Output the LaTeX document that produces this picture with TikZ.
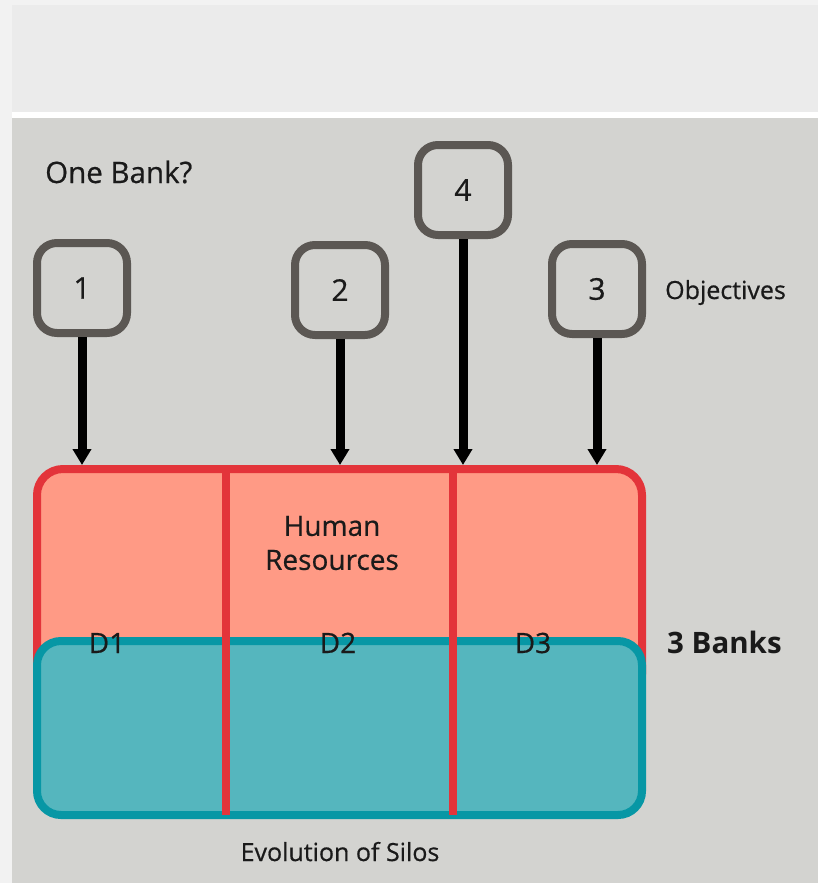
\documentclass[tikz,border=0pt]{standalone}
\usepackage{fontspec}
\setmainfont{Open Sans}[UprightFeatures={FakeBold=0.6}]
\usetikzlibrary{arrows.meta}

\definecolor{pagegray}{HTML}{F2F2F2}
\definecolor{bandgray}{HTML}{EBEBEB}
\definecolor{panelgray}{HTML}{D3D3D0}
\definecolor{boxgray}{HTML}{5B5753}
\definecolor{inkblack}{HTML}{1A1A1A}
\definecolor{siloborder}{HTML}{E3343A}
\definecolor{silofill}{HTML}{FF9A85}
\definecolor{bankborder}{HTML}{0797A5}
\definecolor{bankfill}{HTML}{55B6BE}

\begin{document}
\begin{tikzpicture}[x=1pt,y=1pt]
    \tikzstyle{every node}+=[inner sep=0pt, text=inkblack, font=\fontsize{28}{34}\selectfont]
    \tikzstyle{objbox}=[draw=boxgray, line width=8pt, rounded corners=20pt, minimum width=90pt, minimum height=90pt, font=\fontsize{30}{34}\selectfont]
    \tikzstyle{objarrow}=[line width=9pt, -{Triangle[width=18pt,length=16pt]}]
    \tikzstyle{divider}=[draw=siloborder, line width=8pt]
    \tikzstyle{smalltext}=[font=\fontsize{25}{30}\selectfont]
    \useasboundingbox (0,0) rectangle (818,-883);
    \fill [pagegray] (0,0) rectangle (818,-883);
    \fill [bandgray] (12,-5) rectangle (818,-112);
    \fill [white] (12,-112) rectangle (818,-118);
    \fill [panelgray] (12,-118) rectangle (818,-883);
    \node [objbox] (b1) at (82,-288) {1};
    \node [objbox] (b2) at (340,-290) {2};
    \node [objbox] (b3) at (597,-289) {3};
    \node [objbox] (b4) at (463,-190) {4};
    \node [draw=siloborder, fill=silofill, line width=8pt, rounded corners=26pt, minimum width=605pt, minimum height=231pt] (hr) at (339.5,-584.5) {};
    \node [draw=bankborder, fill=bankfill, line width=8pt, rounded corners=24pt, minimum width=605pt, minimum height=174pt] (banks) at (339.5,-728) {};
    \foreach \b in {b1,b2,b3,b4}
        \draw [objarrow] (\b) -- (\b |- hr.north);
    \draw [divider] (226,-469) -- (226,-815);
    \draw [divider] (453,-469) -- (453,-815);
    \node [anchor=base west, font=\fontsize{29.5}{34}\selectfont] (onebank) at (45,-183) {One Bank?};
    \node [anchor=base west, smalltext] (objectives) at (665,-299) {Objectives};
    \node [align=center] (hrlabel) at (332,-543) {Human\\Resources};
    \node [anchor=base] (d1) at (107,-653) {D1};
    \node [anchor=base] (d2) at (338,-653) {D2};
    \node [anchor=base] (d3) at (533,-653) {D3};
    \node [anchor=base west, font=\fontsize{29.5}{34}\selectfont\bfseries] (threebanks) at (667,-653) {3 Banks};
    \node [anchor=base, smalltext] (silos) at (340,-861) {Evolution of Silos};
\end{tikzpicture}
\end{document}
